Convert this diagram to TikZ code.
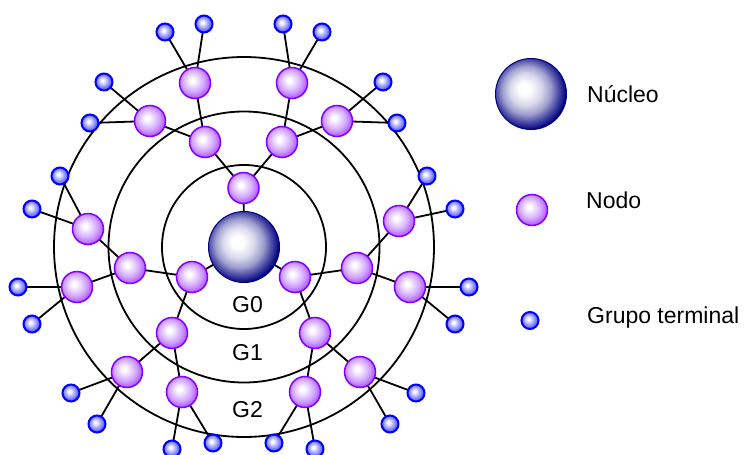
\documentclass[tikz,border=0pt]{standalone}
\usepackage{fontspec}
\setmainfont{Liberation Sans}
\definecolor{corec}{RGB}{0,0,128}
\definecolor{nodec}{RGB}{150,40,255}
\definecolor{nodeline}{RGB}{130,0,255}
\definecolor{termc}{RGB}{40,40,255}
\definecolor{termline}{RGB}{0,0,255}
\pgfdeclareradialshading{coreball}{\pgfpoint{-5bp}{4bp}}{color(0bp)=(white); color(4bp)=(white); color(11bp)=(corec!15!white); color(17bp)=(corec!38!white); color(22bp)=(corec!70!white); color(27bp)=(corec); color(50bp)=(corec)}
\pgfdeclareradialshading{nodeball}{\pgfpoint{-5bp}{5bp}}{color(0bp)=(white); color(3bp)=(white); color(11bp)=(nodec!22!white); color(18bp)=(nodec!42!white); color(26bp)=(nodec!75!white); color(50bp)=(nodec!75!white)}
\pgfdeclareradialshading{termball}{\pgfpoint{-5bp}{5bp}}{color(0bp)=(white); color(3bp)=(white); color(11bp)=(termc!30!white); color(18bp)=(termc!55!white); color(26bp)=(termc!85!white); color(50bp)=(termc!85!white)}
\pgfdeclarelayer{bg}
\pgfsetlayers{bg,main}
\tikzset{
  ring/.style={draw=black, line width=1.8pt},
  link/.style={draw=black, line width=1.8pt},
  coresph/.style={circle, inner sep=0pt, minimum size=71pt, shading=coreball, draw=corec, line width=1pt},
  nodesph/.style={circle, inner sep=0pt, minimum size=31pt, shading=nodeball, draw=nodeline, line width=1.5pt},
  termsph/.style={circle, inner sep=0pt, minimum size=17pt, shading=termball, draw=termline, line width=2pt},
  lbl/.style={anchor=base west, inner sep=0pt, font=\fontsize{23}{27}\selectfont}
}
\begin{document}
\begin{tikzpicture}[x=1pt,y=-1pt]
\useasboundingbox (0,0) rectangle (745,455);
\clip (0,0) rectangle (745,455);
% core and generation nodes
\node[coresph] (c) at (244,247) {};
\node[nodesph] (a) at (243.5,188) {};
\node[nodesph] (b) at (192,277) {};
\node[nodesph] (d) at (295,277) {};
\node[nodesph] (a1) at (205,142) {};
\node[nodesph] (a2) at (282,142) {};
\node[nodesph] (b1) at (130,268) {};
\node[nodesph] (b2) at (172,333) {};
\node[nodesph] (d1) at (357,268) {};
\node[nodesph] (d2) at (315,333) {};
\node[nodesph] (a1x) at (195,83) {};
\node[nodesph] (a1y) at (150,121) {};
\node[nodesph] (a2x) at (292,83) {};
\node[nodesph] (a2y) at (337,121) {};
\node[nodesph] (b1x) at (88,229) {};
\node[nodesph] (b1y) at (77,287) {};
\node[nodesph] (b2x) at (127,372) {};
\node[nodesph] (b2y) at (182,392) {};
\node[nodesph] (d1x) at (399,221) {};
\node[nodesph] (d1y) at (410,287) {};
\node[nodesph] (d2x) at (360,372) {};
\node[nodesph] (d2y) at (305,392) {};
% terminal groups
\node[termsph] (t1) at (165,32) {};
\node[termsph] (t2) at (204,24) {};
\node[termsph] (t3) at (283,24) {};
\node[termsph] (t4) at (322,32) {};
\node[termsph] (t5) at (104,82) {};
\node[termsph] (t6) at (90,123) {};
\node[termsph] (t7) at (383,82) {};
\node[termsph] (t8) at (397,123) {};
\node[termsph] (t9) at (60,176) {};
\node[termsph] (t10) at (32,209) {};
\node[termsph] (t11) at (427,176) {};
\node[termsph] (t12) at (455,209) {};
\node[termsph] (t13) at (18,287) {};
\node[termsph] (t14) at (32,324) {};
\node[termsph] (t15) at (469,287) {};
\node[termsph] (t16) at (455,324) {};
\node[termsph] (t17) at (71,393) {};
\node[termsph] (t18) at (97,424) {};
\node[termsph] (t19) at (416,393) {};
\node[termsph] (t20) at (390,424) {};
\node[termsph] (t21) at (172,449) {};
\node[termsph] (t22) at (213,443) {};
\node[termsph] (t23) at (274,443) {};
\node[termsph] (t24) at (315,449) {};
% rings and links behind
\begin{pgfonlayer}{bg}
  \draw[ring] (c.center) circle[radius=82pt];
  \draw[ring] (c.center) circle[radius=135.5pt];
  \draw[ring] (c.center) circle[radius=190pt];
  \foreach \p/\q in {c/a,c/b,c/d,a/a1,a/a2,b/b1,b/b2,d/d1,d/d2,
      a1/a1x,a1/a1y,a2/a2x,a2/a2y,b1/b1x,b1/b1y,b2/b2x,b2/b2y,
      d1/d1x,d1/d1y,d2/d2x,d2/d2y,
      a1x/t1,a1x/t2,a2x/t3,a2x/t4,a1y/t5,a1y/t6,a2y/t7,a2y/t8,
      b1x/t9,b1x/t10,d1x/t11,d1x/t12,b1y/t13,b1y/t14,d1y/t15,d1y/t16,
      b2x/t17,b2x/t18,d2x/t19,d2x/t20,b2y/t21,b2y/t22,d2y/t23,d2y/t24}
    \draw[link] (\p.center) -- (\q.center);
\end{pgfonlayer}
% generation labels
\node[lbl] (g0) at (232,312) {G0};
\node[lbl] (g1) at (232,360) {G1};
\node[lbl] (g2) at (232,417) {G2};
% legend
\node[coresph] (lc) at (531,94) {};
\node[nodesph] (ln) at (532,210) {};
\node[termsph] (lt) at (530,320.5) {};
\node[lbl] (lct) at (587,102) {Núcleo};
\node[lbl] (lnt) at (586,208) {Nodo};
\node[lbl] (ltt) at (587,323) {Grupo terminal};
\end{tikzpicture}
\end{document}
